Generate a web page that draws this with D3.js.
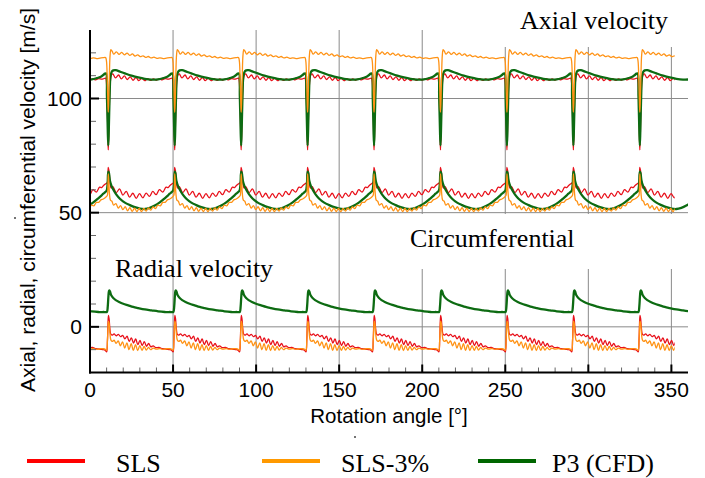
<!DOCTYPE html>
<html>
<head>
<meta charset="utf-8">
<script src="https://cdn.jsdelivr.net/npm/d3@7"></script>
<style>
  body { margin: 0; background: #fff; }
  svg { display: block; }
</style>
</head>
<body>
<div id="chart"></div>
<script>
// Blade passing angles (deg) read from the dips/peaks, one passage every 40 deg
const bladeAngles = [-29, 11, 51, 91, 131, 171, 211, 251, 291, 331, 371];

// One blade passage per series: [angle relative to blade, velocity m/s]
const axialSLS = [[-3, 108.6], [-1.6, 108.9], [-1.1, 107], [-0.6, 97], [-0.2, 82], [0, 77.5], [0.3, 84], [0.7, 98], [1.2, 107],
  [1.9, 110.3], [2.7, 110.8], [4.4, 109.0], [6.2, 110.3], [7.9, 108.6], [9.7, 109.9], [11.4, 108.3], [13.2, 109.5],
  [14.9, 108.0], [16.7, 109.2], [18.4, 107.8], [20.2, 108.9], [21.9, 107.8], [23.7, 108.7], [25.4, 107.9], [27.2, 108.6],
  [28.9, 108.0], [30.7, 108.6], [32.4, 108.2], [34.2, 108.7], [36, 108.5]];
const axialSLS3 = [[-3, 117.9], [-1.6, 117.9], [-1.1, 116.5], [-0.6, 108], [-0.2, 97], [0, 94], [0.3, 99], [0.7, 111], [1.1, 119],
  [1.6, 121.4], [2.4, 120.6], [3.3, 119.4], [4.9, 120.4], [6.5, 119.3], [8.1, 120.2], [9.7, 119.1], [11.3, 119.9], [12.9, 118.9],
  [14.5, 119.5], [16.1, 118.6], [17.7, 119.1], [19.3, 118.3], [20.9, 118.7], [22.5, 118.0], [24.1, 118.4], [25.7, 117.8],
  [27.5, 118.1], [29.3, 117.6], [31.1, 117.8], [33, 117.5], [35, 117.7]];
const axialP3 = [[-3, 110.3], [-2, 110.9], [-1.3, 111.0], [-0.8, 101], [-0.3, 86], [0, 79.5], [0.3, 86], [0.8, 101], [1.3, 109.5],
  [2, 111.6], [3, 112.3], [4.5, 112.4], [7, 111.8], [10, 111.0], [14, 110.0], [18, 109.2], [22, 108.6], [26, 108.3],
  [30, 108.4], [33, 108.9], [35.5, 109.5]];

const circSLS = [[-3, 61.8], [-1.5, 62.7], [-0.6, 63.2], [-0.2, 66.5], [0, 69.8], [0.4, 68.5], [1.0, 64.0], [1.7, 60.8],
  [2.8, 61.4], [4.8, 58.8], [6.8, 60.4], [8.8, 57.7], [10.8, 59.3], [12.8, 56.8], [14.8, 58.5], [16.8, 56.3], [18.8, 58.3],
  [20.8, 56.5], [22.8, 58.6], [24.8, 57.1], [26.8, 59.3], [28.8, 57.9], [30.8, 60.1], [32.8, 59.0], [34.8, 61.2], [36, 61.0]];
const circSLS3 = [[-3, 56.0], [-1.5, 56.8], [-0.6, 57.5], [-0.2, 62], [0, 67.0], [0.3, 64], [0.7, 58.5], [1.3, 55.5], [2.2, 55.0],
  [3.2, 53.3], [4.6, 54.0], [6.0, 52.0], [7.4, 53.1], [8.8, 51.3], [10.2, 52.6], [11.6, 50.8], [13.0, 52.2], [14.4, 50.6],
  [15.8, 52.0], [17.2, 50.5], [18.6, 51.9], [20.0, 50.5], [21.4, 51.9], [22.8, 50.7], [24.2, 52.1], [25.6, 51.1], [27.0, 52.5],
  [28.4, 51.8], [29.8, 53.3], [31.3, 53.0], [32.8, 54.5], [34.2, 54.5], [35.6, 55.6]];
const circP3 = [[-3, 58.3], [-2, 58.9], [-1, 59.6], [-0.4, 62.5], [0, 68.0], [0.4, 67.3], [1, 64.0], [2, 61.6], [3.5, 59.5],
  [5, 57.8], [7, 56.1], [10, 54.4], [13, 53.3], [16, 52.4], [19, 51.8], [22, 51.6], [25, 52.1], [28, 53.1], [31, 54.5],
  [34, 56.3], [36, 57.6]];

const radSLS = [[-3, -10.0], [-1.8, -10.3], [-1.0, -11.0], [-0.5, -6], [-0.2, 1], [0.1, 5.0], [0.5, 3.5], [1.0, -1.0],
  [1.6, -3.3], [2.5, -3.6], [3.5, -3.1], [4.8, -3.9], [6.1, -3.3], [7.4, -4.3], [8.7, -3.7], [10.0, -5.3], [11.3, -4.1],
  [12.6, -6.4], [13.9, -4.8], [15.2, -7.1], [16.5, -5.3], [17.8, -7.8], [19.1, -5.9], [20.4, -8.2], [21.7, -6.5], [23.0, -8.5],
  [24.3, -7.3], [25.6, -8.8], [27, -8.3], [28.5, -9.1], [30.5, -9.0], [32.5, -9.6], [34.5, -9.7], [36, -9.9]];
const radSLS3 = [[-3, -9.6], [-1.8, -9.8], [-1.0, -10.3], [-0.5, -6], [-0.2, -1], [0.1, 2.5], [0.5, 1.5], [1.0, -3.0],
  [1.6, -5.8], [2.5, -6.4], [3.5, -5.8], [4.7, -7.2], [6.0, -6.2], [7.3, -8.3], [8.6, -6.6], [9.9, -9.3], [11.2, -7.0],
  [12.5, -10.0], [13.8, -7.4], [15.1, -10.3], [16.4, -7.8], [17.7, -10.4], [19.0, -8.2], [20.3, -10.3], [21.6, -8.6],
  [22.9, -10.2], [24.2, -9.0], [25.5, -10.0], [27, -9.3], [29, -9.8], [31, -9.5], [33, -9.9], [35, -9.6]];
const radP3 = [[-3, 6.5], [-1.5, 6.4], [-0.8, 6.5], [-0.3, 9], [0.1, 13.5], [0.5, 15.9], [1.0, 15.5], [1.8, 13.8], [3, 12.6],
  [4.5, 11.7], [6.5, 10.9], [9, 10.1], [12, 9.4], [15, 8.7], [18, 8.2], [22, 7.6], [26, 7.2], [30, 6.8], [34, 6.5], [36, 6.4]];

// Series styles / extent (SLS runs stop at 352 deg)
const seriesNames = ['SLS', 'SLS-3%', 'P3 (CFD)'];
const seriesColors = ['#e8101a', '#ff9214', '#0d6b12'];
const legendColors = ['#ff0000', '#ff9900', '#006600'];
const seriesWidths = [1.3, 1.3, 2.3];
const seriesEnd = [352, 352, 360];
const profiles = [
  [axialSLS, circSLS, radSLS],
  [axialSLS3, circSLS3, radSLS3],
  [axialP3, circP3, radP3]
];

const xTicks = [0, 50, 100, 150, 200, 250, 300, 350];
const yTicks = [0, 50, 100];

const width = 705, height = 478;
const svg = d3.select('#chart').append('svg')
  .attr('width', width).attr('height', height);

const x = d3.scaleLinear().domain([0, 360]).range([90, 688]);
const y = d3.scaleLinear().domain([-20, 130]).range([372.5, 30]);

// Grid
svg.append('g').selectAll('line').data(xTicks.slice(1)).join('line')
  .attr('x1', d => x(d)).attr('x2', d => x(d))
  .attr('y1', y(130)).attr('y2', y(-20))
  .attr('stroke', '#8a8a8a').attr('stroke-width', 1);
svg.append('g').selectAll('line').data(yTicks).join('line')
  .attr('x1', x(0)).attr('x2', x(360))
  .attr('y1', d => y(d)).attr('y2', d => y(d))
  .attr('stroke', '#8a8a8a').attr('stroke-width', 1);

// White boxes behind the panel titles (gridlines break there)
svg.append('rect').attr('x', 432).attr('y', 0).attr('width', 273).attr('height', 47).attr('fill', '#fff');
svg.append('rect').attr('x', 346).attr('y', 214).attr('width', 359).attr('height', 55).attr('fill', '#fff');

// Build full curve from blade passages
function buildSeries(profile, end) {
  const pts = [];
  bladeAngles.forEach(b => {
    profile.forEach(([t, v]) => {
      const a = b + t;
      if (a >= -4 && a <= end + 4) pts.push([a, v]);
    });
  });
  return pts;
}

const line = d3.line()
  .x(d => x(d[0]))
  .y(d => y(d[1]))
  .curve(d3.curveCatmullRom.alpha(0.5));

const defs = svg.append('defs');
seriesEnd.forEach((end, i) => {
  defs.append('clipPath').attr('id', 'clip' + i)
    .append('rect')
    .attr('x', x(0)).attr('y', 0)
    .attr('width', x(end) - x(0)).attr('height', height);
});

// Draw order: SLS, P3, SLS-3% on top
[0, 2, 1].forEach(i => {
  profiles[i].forEach(profile => {
    svg.append('path')
      .datum(buildSeries(profile, seriesEnd[i]))
      .attr('clip-path', 'url(#clip' + i + ')')
      .attr('fill', 'none')
      .attr('stroke', seriesColors[i])
      .attr('stroke-width', seriesWidths[i])
      .attr('stroke-linejoin', 'round')
      .attr('d', line);
  });
});

// Axes
const minorY = d3.range(-10, 130, 10).filter(d => d % 50 !== 0);
const minorX = d3.range(10, 360, 10).filter(d => d % 50 !== 0);

svg.append('g').selectAll('line').data(minorY).join('line')
  .attr('x1', x(0)).attr('x2', x(0) + 6)
  .attr('y1', d => y(d)).attr('y2', d => y(d))
  .attr('stroke', '#666').attr('stroke-width', 1);
svg.append('g').selectAll('line').data(yTicks).join('line')
  .attr('x1', x(0)).attr('x2', x(0) + 9)
  .attr('y1', d => y(d)).attr('y2', d => y(d))
  .attr('stroke', '#000').attr('stroke-width', 2);
svg.append('g').selectAll('line').data(minorX).join('line')
  .attr('x1', d => x(d)).attr('x2', d => x(d))
  .attr('y1', y(-20)).attr('y2', y(-20) - 5)
  .attr('stroke', '#666').attr('stroke-width', 1);
svg.append('g').selectAll('line').data(xTicks).join('line')
  .attr('x1', d => x(d)).attr('x2', d => x(d))
  .attr('y1', y(-20)).attr('y2', y(-20) - 8)
  .attr('stroke', '#000').attr('stroke-width', 2);

svg.append('line')
  .attr('x1', x(0)).attr('x2', x(0)).attr('y1', y(130)).attr('y2', y(-20) + 1)
  .attr('stroke', '#000').attr('stroke-width', 2);
svg.append('line')
  .attr('x1', x(0) - 1).attr('x2', x(360)).attr('y1', y(-20)).attr('y2', y(-20))
  .attr('stroke', '#000').attr('stroke-width', 2);

const sans = '"Liberation Sans", Arial, Helvetica, sans-serif';
const serif = '"Liberation Serif", "Times New Roman", Times, serif';

svg.append('g').selectAll('text').data(yTicks).join('text')
  .attr('x', 82).attr('y', d => y(d) + 7.5)
  .attr('text-anchor', 'end')
  .attr('font-family', sans).attr('font-size', 21)
  .text(d => d);
svg.append('g').selectAll('text').data(xTicks).join('text')
  .attr('x', d => x(d)).attr('y', 397)
  .attr('text-anchor', 'middle')
  .attr('font-family', sans).attr('font-size', 21)
  .text(d => d);

svg.append('text')
  .attr('x', 389).attr('y', 423)
  .attr('text-anchor', 'middle')
  .attr('font-family', sans).attr('font-size', 20.5)
  .text('Rotation angle [°]');
svg.append('text')
  .attr('transform', 'translate(35,200) rotate(-90)')
  .attr('text-anchor', 'middle')
  .attr('font-family', sans).attr('font-size', 21)
  .text('Axial, radial, circumferential velocity [m/s]');

// Panel titles
svg.append('text').attr('x', 520).attr('y', 29)
  .attr('font-family', serif).attr('font-size', 26).text('Axial velocity');
svg.append('text').attr('x', 410).attr('y', 247)
  .attr('font-family', serif).attr('font-size', 26).text('Circumferential');
svg.append('text').attr('x', 115).attr('y', 277)
  .attr('font-family', serif).attr('font-size', 26).text('Radial velocity');

// stray dots from the original figure
svg.append('circle').attr('cx', 15).attr('cy', 218).attr('r', 1).attr('fill', '#444');
svg.append('circle').attr('cx', 355).attr('cy', 437).attr('r', 1).attr('fill', '#444');

// Legend
const legendLineX = [27, 262, 478];
const legendTextX = [116, 341, 552];
const legend = svg.append('g');
seriesNames.forEach((name, i) => {
  legend.append('line')
    .attr('x1', legendLineX[i]).attr('x2', legendLineX[i] + 58)
    .attr('y1', 461).attr('y2', 461)
    .attr('stroke', legendColors[i]).attr('stroke-width', 4);
  legend.append('text')
    .attr('x', legendTextX[i]).attr('y', 472)
    .attr('font-family', serif).attr('font-size', 26)
    .text(name);
});
</script>
</body>
</html>
